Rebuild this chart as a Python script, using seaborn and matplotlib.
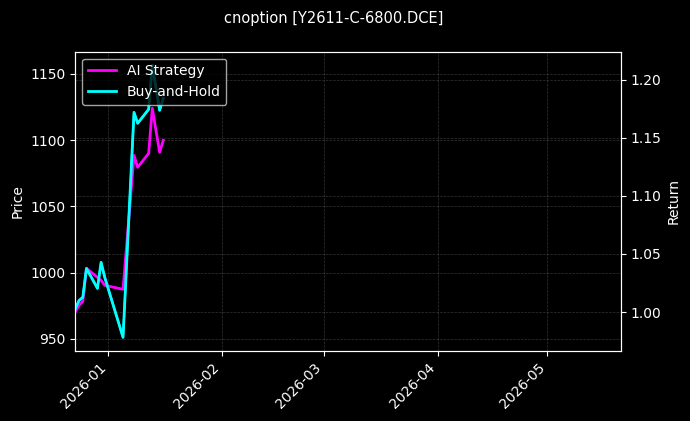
import numpy as np
import pandas as pd
import matplotlib
matplotlib.use("Agg")
import matplotlib.pyplot as plt
import matplotlib.dates as mdates
import seaborn as sns

# Dados
datas = pd.to_datetime(['2025-12-23', '2025-12-24', '2025-12-25', '2025-12-26',
                        '2025-12-29', '2025-12-30', '2025-12-31', '2026-01-05',
                        '2026-01-08', '2026-01-09', '2026-01-12', '2026-01-13',
                        '2026-01-15', '2026-01-16'])
preco = [973.1, 979.1, 981.4, 1003.2, 988.1, 1007.8, 996.5, 951.2,
         1120.9, 1112.6, 1123.2, 1156.4, 1122.4, 1131.4]
ret_ai = [1.0006, 1.0058, 1.0092, 1.0376, 1.0299, 1.0273, 1.0230, 1.0196,
          1.1349, 1.1246, 1.1366, 1.1754, 1.1375, 1.1478]
ret_bh = [1.0032, 1.0101, 1.0127, 1.0376, 1.0204, 1.0428, 1.0299, 0.9782,
          1.1719, 1.1625, 1.1745, 1.2124, 1.1737, 1.1841]

df = pd.DataFrame({'date': datas, 'price': preco, 'ai': ret_ai, 'bh': ret_bh})

plt.style.use('dark_background')
fig = plt.figure(figsize=(6.9, 4.21), dpi=100)
ax1 = fig.add_axes([0.1094, 0.1663, 0.7899, 0.7109])
ax2 = ax1.twinx()

# preço fica por baixo do buy-and-hold
sns.lineplot(data=df, x='date', y='price', ax=ax1, color='cyan', linewidth=1.5)
ax1.set_ylabel('Price')
ax1.set_xlabel('')
ax1.grid(True, linestyle='--', linewidth=0.5, color='gray', alpha=0.4)

sns.lineplot(data=df, x='date', y='ai', ax=ax2, color='magenta', linewidth=2, label='AI Strategy')
sns.lineplot(data=df, x='date', y='bh', ax=ax2, color='cyan', linewidth=2, label='Buy-and-Hold')
ax2.set_ylabel('Return')
ax2.set_xlabel('')
ax2.grid(True, axis='y', linestyle='--', linewidth=0.5, color='gray', alpha=0.4)
ax2.legend(loc='upper left')

ax1.set_xlim(pd.Timestamp('2025-12-23'), pd.Timestamp('2026-05-21'))
ax1.xaxis.set_major_locator(mdates.MonthLocator())
ax1.xaxis.set_major_formatter(mdates.DateFormatter('%Y-%m'))
plt.setp(ax1.get_xticklabels(), rotation=45, ha='right')

fig.suptitle('cnoption [Y2611-C-6800.DCE]', x=0.483, y=0.975, fontsize=10.5)

fig.savefig('out.png', dpi=100, facecolor='black')
